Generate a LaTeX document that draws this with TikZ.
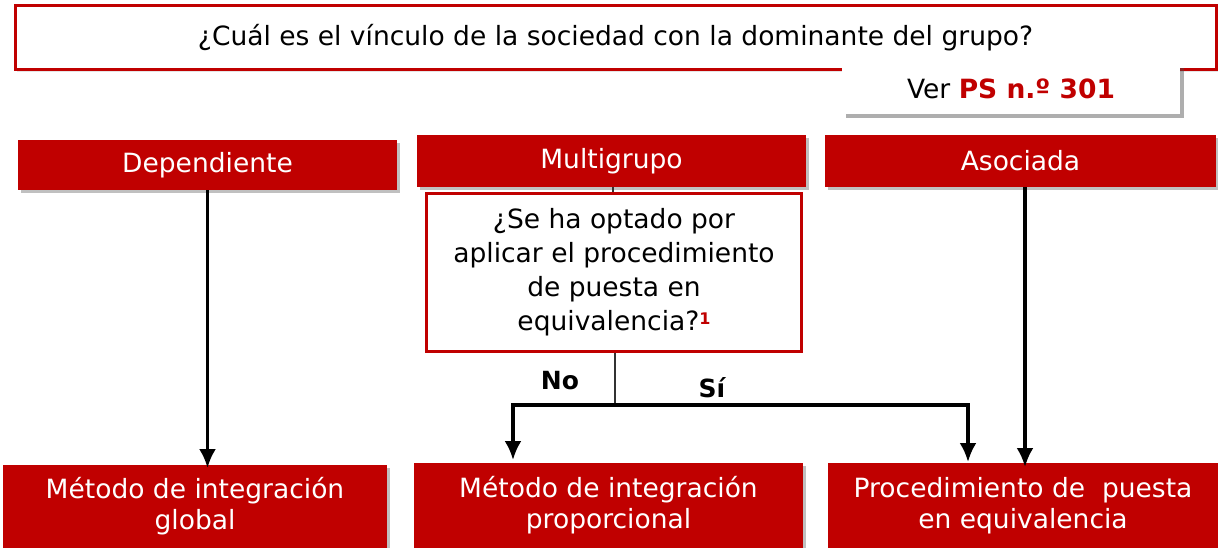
\documentclass[tikz,border=0pt]{standalone}
\usepackage{fontspec}
\setmainfont{DejaVu Sans}
\usetikzlibrary{arrows.meta,shadows,calc}
\definecolor{dred}{HTML}{C00000}
\begin{document}
\begin{tikzpicture}[x=1pt,y=-1pt,
  redbox/.style={fill=dred,text=white,inner sep=0pt,align=center,
    font=\fontsize{26.5}{31}\selectfont,
    drop shadow={shadow xshift=3pt,shadow yshift=-3pt,opacity=0.35,fill=black!70}},
  outbox/.style={draw=dred,line width=3pt,fill=white,inner sep=0pt,align=center,
    font=\fontsize{26.5}{34}\selectfont},
  conn/.style={line width=3.3pt,-{Latex[length=19pt,width=17pt]}},
  thinline/.style={line width=1.4pt,black!80},
  lbl/.style={font=\bfseries\fontsize{25}{28}\selectfont,inner sep=0pt}]
\useasboundingbox (0,0) rectangle (1218,548);
\fill[white] (0,0) rectangle (1218,548);
% top question
\node[outbox,minimum width=1201pt,minimum height=64pt,
  drop shadow={shadow xshift=2pt,shadow yshift=-2pt,opacity=0.2}] (top) at (615.5,38)
  {¿Cuál es el vínculo de la sociedad con la dominante del grupo?};
% Ver PS box
\node[fill=white,minimum width=338pt,minimum height=50pt,inner sep=0pt,
  font=\fontsize{26.5}{30}\selectfont,
  drop shadow={shadow xshift=4pt,shadow yshift=-4pt,opacity=0.45,fill=black!70}] (ver) at (1011,89)
  {Ver \textcolor{dred}{\bfseries PS n.º 301}};
% categories
\node[redbox,minimum width=379pt,minimum height=50pt] (dep) at (207.5,165) {Dependiente};
\node[redbox,minimum width=389pt,minimum height=52pt] (mul) at (611.5,161) {Multigrupo};
\node[redbox,minimum width=391pt,minimum height=52pt] (aso) at (1020.5,161) {Asociada};
% question box
\node[outbox,minimum width=375pt,minimum height=157pt] (q) at (614,272.5)
  {¿Se ha optado por\\aplicar el procedimiento\\de puesta en\\equivalencia?\textcolor{dred}{\bfseries\fontsize{16}{16}\selectfont\raisebox{0.7ex}{1}}};
% bottom boxes
\node[redbox,minimum width=384pt,minimum height=83pt] (bl) at (195,506.5)
  {Método de integración\\global};
\node[redbox,minimum width=389pt,minimum height=85pt] (bm) at (608.5,505.5)
  {Método de integración\\proporcional};
\node[redbox,minimum width=390pt,minimum height=85pt] (br) at (1023,505.5)
  {Procedimiento de~ puesta\\en equivalencia};
% connectors
\draw[thinline] (613,0 |- mul.south) -- (613,0 |- q.north);
\coordinate (j) at (615,405);
\coordinate (nl) at (513,460);
\coordinate (nr) at (968,462);
\coordinate (da) at (207,468);
\coordinate (aa) at (1025,467);
\draw[thinline] (615,0 |- q.south) -- (j);
\draw[conn] (j) -| (nl);
\draw[conn] (j) -| (nr);
\draw[conn] (dep.south) -- (dep.south |- da);
\draw[conn] (1025,0 |- aso.south) -- (aa);
% labels
\node[lbl] (no) at (560,381) {No};
\node[lbl] (si) at (712,388) {Sí};
\end{tikzpicture}
\end{document}
